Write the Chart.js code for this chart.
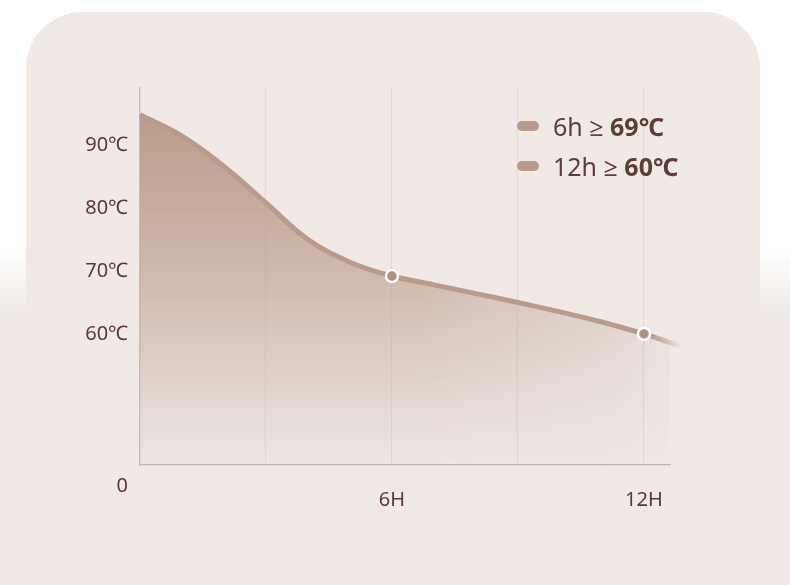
<!DOCTYPE html>
<html>
<head>
<meta charset="utf-8">
<script src="https://cdn.jsdelivr.net/npm/chart.js@4/dist/chart.umd.min.js"></script>
<style>
  html, body { margin:0; padding:0; }
  body {
    width:790px; height:585px; overflow:hidden; position:relative;
    background: linear-gradient(to bottom, #ffffff 0px, #ffffff 245px, #efe8e4 320px, #efe8e4 585px);
    font-family: "Noto Sans", "Open Sans", sans-serif;
  }
  .card {
    position:absolute; left:26px; top:12px; width:734px; height:600px;
    border-radius:56px 56px 0 0;
    background:#f0e9e5;
  }
  canvas { position:absolute; left:0; top:0; }
  .legend { position:absolute; left:517px; top:106px; }
  .legend .row { display:flex; align-items:center; height:40px; }
  .legend .mark { width:22px; height:10px; border-radius:5px; background:#b89b8b; margin-right:14px; }
  .legend .txt { font-size:25px; color:#5e3d36; white-space:nowrap; }
  .legend b { font-weight:700; }
</style>
</head>
<body>
<div class="card"></div>
<canvas id="c" width="790" height="585"></canvas>
<div class="legend" id="legend"></div>
<script>
// ---- data ----
const hours = [0, 1, 2, 3, 4, 5, 6, 7, 8, 9, 10, 11, 12, 12.9];
const temps = [94.8, 91.4, 86.6, 80.8, 75, 71.4, 69.2, 67.8, 66.4, 65, 63.5, 61.9, 60, 58];
const markedHours = [6, 12];
const yTickValues = [60, 70, 80, 90];
const yTickSuffix = '℃';
const xTickValues = [3, 6, 9, 12];
const xTickLabels = { 6: '6H', 12: '12H' };
const originLabel = '0';
const legendPlain = ['6h ≥ ', '12h ≥ '];
const legendBold = ['69℃', '60℃'];

// ---- legend (HTML) ----
const lg = document.getElementById('legend');
legendPlain.forEach((t, i) => {
  const row = document.createElement('div'); row.className = 'row';
  const m = document.createElement('span'); m.className = 'mark';
  const tx = document.createElement('span'); tx.className = 'txt';
  tx.appendChild(document.createTextNode(t));
  const b = document.createElement('b'); b.textContent = legendBold[i];
  tx.appendChild(b);
  row.appendChild(m); row.appendChild(tx); lg.appendChild(row);
});

const LINE = '185,155,139';
const FONT = '"Noto Sans", "Open Sans", sans-serif';
let fillPattern = null;
function areaFill(ctx) {
  const chart = ctx.chart; const ca = chart.chartArea;
  if (!ca) return 'rgba(' + LINE + ',0.6)';
  if (fillPattern) return fillPattern;
  const off = document.createElement('canvas');
  off.width = chart.width; off.height = chart.height;
  const o = off.getContext('2d');
  const g = o.createLinearGradient(0, ca.top + 25, 0, ca.bottom);
  g.addColorStop(0, 'rgba(' + LINE + ',1)');
  g.addColorStop(0.45, 'rgba(' + LINE + ',0.62)');
  g.addColorStop(1, 'rgba(' + LINE + ',0.03)');
  o.fillStyle = g; o.fillRect(0, 0, off.width, off.height);
  o.globalCompositeOperation = 'destination-in';
  const h = o.createLinearGradient(ca.left, 0, ca.right + 30, 0);
  h.addColorStop(0, 'rgba(0,0,0,1)');
  h.addColorStop(0.5, 'rgba(0,0,0,1)');
  h.addColorStop(0.85, 'rgba(0,0,0,0.55)');
  h.addColorStop(1, 'rgba(0,0,0,0)');
  o.fillStyle = h; o.fillRect(0, 0, off.width, off.height);
  fillPattern = chart.ctx.createPattern(off, 'no-repeat');
  return fillPattern;
}
function lineStroke(ctx) {
  const chart = ctx.chart; const ca = chart.chartArea;
  if (!ca) return 'rgb(' + LINE + ')';
  const x = chart.scales.x;
  const x0 = ca.left, x1 = x.getPixelForValue(hours[hours.length - 1]);
  const g = chart.ctx.createLinearGradient(x0, 0, x1, 0);
  const fadeStart = (x.getPixelForValue(12.2) - x0) / (x1 - x0);
  g.addColorStop(0, 'rgba(' + LINE + ',1)');
  g.addColorStop(Math.min(0.99, fadeStart), 'rgba(' + LINE + ',1)');
  g.addColorStop(1, 'rgba(' + LINE + ',0)');
  return g;
}

const originPlugin = {
  id: 'originLabel',
  afterDraw(chart) {
    const y = chart.scales.y; const ctx = chart.ctx;
    ctx.save();
    ctx.font = '20px ' + FONT;
    ctx.fillStyle = '#5a3a33';
    ctx.textAlign = 'right'; ctx.textBaseline = 'middle';
    ctx.fillText(originLabel, y.right - 12, y.bottom + 21);
    ctx.restore();
  }
};

new Chart(document.getElementById('c'), {
  type: 'line',
  data: {
    datasets: [{
      data: hours.map((h, i) => ({ x: h, y: temps[i] })),
      borderColor: lineStroke,
      backgroundColor: areaFill,
      borderWidth: 5,
      fill: 'start',
      tension: 0.4,
      clip: false,
      pointRadius: hours.map(h => markedHours.includes(h) ? 6 : 0),
      pointBackgroundColor: '#b0917f',
      pointBorderColor: '#ffffff',
      pointBorderWidth: 2.5,
      pointHoverRadius: 0
    }]
  },
  options: {
    responsive: false,
    devicePixelRatio: 1,
    animation: false,
    events: [],
    layout: { padding: { left: 0, top: 88, right: 120, bottom: 0 } },
    plugins: { legend: { display: false }, tooltip: { enabled: false } },
    scales: {
      x: {
        type: 'linear', min: 0, max: 12.62,
        afterFit(s) { s.height = 120; },
        afterBuildTicks(s) { s.ticks = xTickValues.map(v => ({ value: v })); },
        grid: { display: true, drawTicks: false, color: '#e4dad4', lineWidth: 1 },
        border: { display: true, color: '#c3b3aa', width: 1.3 },
        ticks: {
          padding: 23, autoSkip: false, maxRotation: 0,
          color: '#5a3a33',
          font: { size: 20, family: FONT },
          callback: v => xTickLabels[v] || ''
        }
      },
      y: {
        min: 39.2, max: 99.05,
        afterFit(s) { s.width = 140; },
        afterBuildTicks(s) { s.ticks = yTickValues.map(v => ({ value: v })); },
        grid: { display: false, drawTicks: false },
        border: { display: true, color: '#c9bab2', width: 1.3 },
        ticks: {
          padding: 12,
          color: '#5a3a33',
          font: { size: 20, family: FONT },
          callback: v => v + yTickSuffix
        }
      }
    }
  },
  plugins: [originPlugin]
});
</script>
</body>
</html>
